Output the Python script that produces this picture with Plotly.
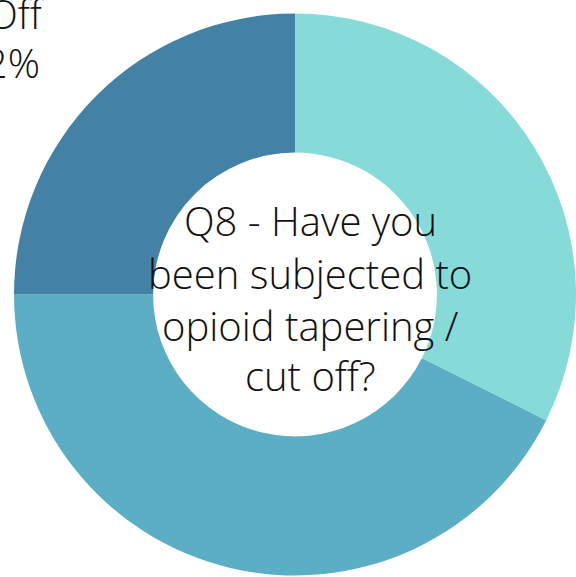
import plotly.graph_objects as go

W, H = 576, 577

# Data (share of respondents, clockwise from 12 o'clock)
labels = ["No", "Yes - Tapered", "Yes - Cut Off"]
values = [32.4, 42.6, 25.0]
colors = ["#86DBD9", "#5BAEC4", "#4382A5"]

# Centre title lines
center_lines = ["Q8 - Have you", "been subjected to", "opioid tapering /", "cut off?"]
# Outside label fragment visible at top-left (cropped in the reference)
outside_label = ["Cut Off", "22%"]

FONT = "Open Sans, Lato, DejaVu Sans, sans-serif"

fig = go.Figure(
    go.Pie(
        labels=labels,
        values=values,
        marker=dict(colors=colors, line=dict(width=0)),
        hole=0.505,
        sort=False,
        direction="clockwise",
        rotation=0,
        textinfo="none",
        hoverinfo="label+percent",
        showlegend=False,
        domain=dict(x=[14 / W, 1.0], y=[0.0, 1 - 12 / H]),
    )
)

def px(x):
    return x / W

def py(y):
    return 1 - y / H

annotations = []
baselines = [235, 288, 340, 390]
fs = 40
for line, b in zip(center_lines, baselines):
    annotations.append(dict(
        text=line, x=px(310), y=py(b - 0.36 * fs), xref="paper", yref="paper",
        xanchor="center", yanchor="middle", showarrow=False, borderpad=0,
        font=dict(family=FONT, size=fs, color="#111111", weight=300),
    ))

# cropped outside label
annotations.append(dict(
    text=outside_label[0], x=px(46), y=py(28 - 0.36 * fs), xref="paper", yref="paper",
    xanchor="right", yanchor="middle", showarrow=False, borderpad=0,
    font=dict(family=FONT, size=fs, color="#111111", weight=300),
))
annotations.append(dict(
    text=outside_label[1], x=px(41), y=py(77 - 0.36 * fs), xref="paper", yref="paper",
    xanchor="right", yanchor="middle", showarrow=False, borderpad=0,
    font=dict(family=FONT, size=fs, color="#111111", weight=300),
))

fig.update_layout(
    width=W, height=H,
    margin=dict(l=0, r=0, t=0, b=0),
    paper_bgcolor="white", plot_bgcolor="white",
    annotations=annotations,
)

fig.write_html("out.html")
